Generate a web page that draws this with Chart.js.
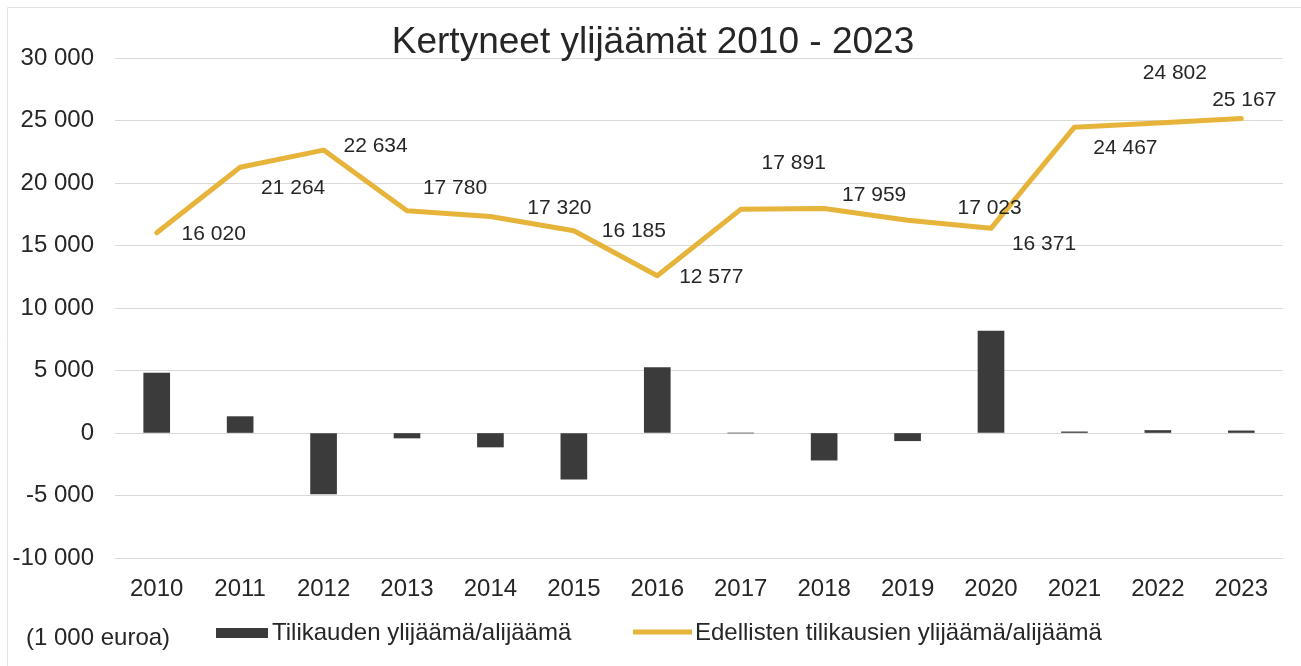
<!DOCTYPE html>
<html>
<head>
<meta charset="utf-8">
<script src="https://cdn.jsdelivr.net/npm/chart.js@4/dist/chart.umd.min.js"></script>
<style>
html,body{margin:0;padding:0;background:#fff;}
#wrap{position:relative;width:1301px;height:666px;}
</style>
</head>
<body>
<div id="wrap"><canvas id="c" width="1301" height="666"></canvas></div>
<script>
// ---- data ----
const titleText = 'Kertyneet ylijäämät 2010 - 2023';
const unitText = '(1 000 euroa)';
const years = ['2010','2011','2012','2013','2014','2015','2016','2017','2018','2019','2020','2021','2022','2023'];
const surplusLabel = 'Tilikauden ylijäämä/alijäämä';
const surplus = [4790, 1310, -4870, -400, -1120, -3690, 5240, 0, -2170, -620, 8150, 90, 200, 170];
const accumulatedLabel = 'Edellisten tilikausien ylijäämä/alijäämä';
const accumulated = [16020, 21264, 22634, 17780, 17320, 16185, 12577, 17891, 17959, 17023, 16371, 24467, 24802, 25167];
const yMin = -10000, yMax = 30000, yStep = 5000;

// ---- label layout (pixel offsets of value labels from their points) ----
const labelOffsets = [[57,1],[53,21],[52,-4],[48,-23],[69,-8],[60,1],[54,1],[53,-46],[50,-13],[82,-12],[53,16],[51,21],[17,-50],[3,-18]];

const FONT = '"Liberation Sans", Arial, sans-serif';
const TEXT = '#262626';
const BAR = '#3b3b3b';
const LINE = '#e6b43a';

function fmt(v){
  const s = Math.abs(Math.round(v)).toString().replace(/\B(?=(\d{3})+(?!\d))/g, ' ');
  return (v < 0 ? '-' : '') + s;
}

const framePlugin = {
  id: 'frame',
  beforeDraw(chart){
    const ctx = chart.ctx;
    ctx.save();
    ctx.strokeStyle = '#e2e2e2';
    ctx.lineWidth = 1;
    ctx.beginPath();
    ctx.moveTo(7.5, 666); ctx.lineTo(7.5, 7.5); ctx.lineTo(1301, 7.5);
    ctx.stroke();
    ctx.restore();
  }
};

const valueLabels = {
  id: 'valueLabels',
  afterDatasetsDraw(chart){
    const ctx = chart.ctx;
    const meta = chart.getDatasetMeta(1);
    const ds = chart.data.datasets[1];
    ctx.save();
    ctx.font = '21px ' + FONT;
    ctx.fillStyle = TEXT;
    ctx.textAlign = 'center';
    ctx.textBaseline = 'middle';
    meta.data.forEach((el, i) => {
      const o = labelOffsets[i] || [0,0];
      ctx.fillText(fmt(ds.data[i]), el.x + o[0], el.y + o[1]);
    });
    ctx.restore();
  }
};

const titleAndLegend = {
  id: 'titleAndLegend',
  afterDraw(chart){
    const ctx = chart.ctx;
    const d = chart.data.datasets;
    ctx.save();
    // title
    ctx.font = '37px ' + FONT;
    ctx.fillStyle = TEXT;
    ctx.textAlign = 'center';
    ctx.textBaseline = 'alphabetic';
    ctx.fillText(titleText, 653, 53);
    // legend
    ctx.font = '24px ' + FONT;
    ctx.textAlign = 'left';
    ctx.textBaseline = 'middle';
    ctx.fillText(unitText, 26, 638);
    ctx.fillStyle = d[0].backgroundColor;
    ctx.fillRect(216, 628, 52, 10);
    ctx.fillStyle = TEXT;
    ctx.fillText(d[0].label, 272, 633);
    ctx.strokeStyle = d[1].borderColor;
    ctx.lineWidth = 5;
    ctx.beginPath();
    ctx.moveTo(633, 632); ctx.lineTo(692, 632);
    ctx.stroke();
    ctx.fillText(d[1].label, 695, 633);
    ctx.restore();
  }
};

new Chart(document.getElementById('c'), {
  data: {
    labels: years,
    datasets: [
      { type: 'bar', label: surplusLabel, data: surplus, backgroundColor: BAR, borderWidth: 0, barThickness: 26, order: 2 },
      { type: 'line', label: accumulatedLabel, data: accumulated, borderColor: LINE, backgroundColor: LINE, borderWidth: 5, pointRadius: 0, tension: 0, borderJoinStyle: 'round', borderCapStyle: 'round', order: 1 }
    ]
  },
  options: {
    responsive: false,
    animation: false,
    devicePixelRatio: 1,
    layout: { padding: { top: 58, right: 18, bottom: 0, left: 0 } },
    plugins: { legend: { display: false }, title: { display: false }, tooltip: { enabled: false } },
    scales: {
      x: {
        offset: true,
        grid: { display: false, drawTicks: false },
        border: { display: false },
        ticks: { font: { size: 24, family: FONT }, color: TEXT, padding: 17, maxRotation: 0, autoSkip: false },
        afterFit(s){ s.height = 108; }
      },
      y: {
        min: yMin, max: yMax,
        grid: { color: '#d9d9d9', lineWidth: 1, drawTicks: false },
        border: { display: false },
        ticks: { stepSize: yStep, font: { size: 24, family: FONT }, color: TEXT, padding: 21, callback: v => fmt(v) },
        afterFit(s){ s.width = 115; }
      }
    }
  },
  plugins: [framePlugin, valueLabels, titleAndLegend]
});
</script>
</body>
</html>
